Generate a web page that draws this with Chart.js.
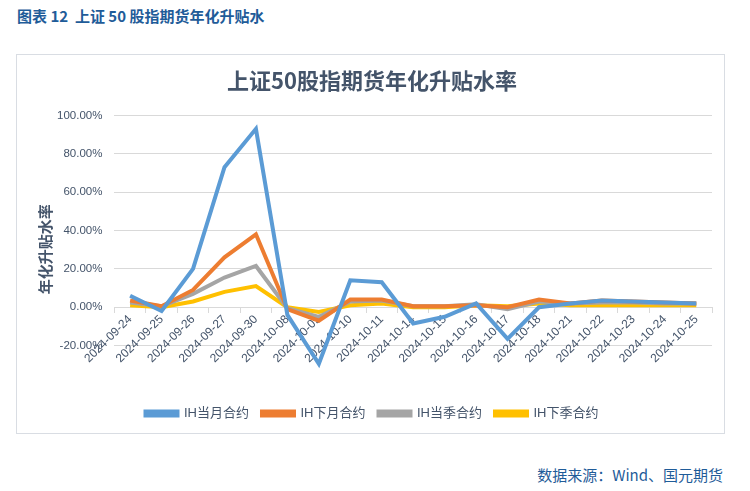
<!DOCTYPE html>
<html>
<head>
<meta charset="utf-8">
<script src="https://cdn.jsdelivr.net/npm/chart.js@4"></script>
<style>
  body { margin: 0; background: #fff; width: 750px; height: 491px; position: relative; overflow: hidden; }
  #cabecera { position: absolute; left: 17px; top: 5px; font: bold 15px "Noto Sans CJK SC", sans-serif; color: #1F5C99; white-space: pre; }
  #caja { position: absolute; left: 16px; top: 54px; width: 707px; height: 378px; border: 1px solid #D9DDE3; }
  #fuente { position: absolute; right: 27px; top: 464px; font: 15px "Noto Sans CJK SC", sans-serif; color: #1F5C99; }
</style>
</head>
<body>
<div id="cabecera">图表 12  上证 50 股指期货年化升贴水</div>
<div id="caja"><canvas id="grafico" width="707" height="378"></canvas></div>
<div id="fuente">数据来源：Wind、国元期货</div>
<script>
// Fechas (eje X)
const fechas = [
  "2024-09-24", "2024-09-25", "2024-09-26", "2024-09-27", "2024-09-30",
  "2024-10-08", "2024-10-09", "2024-10-10", "2024-10-11", "2024-10-14",
  "2024-10-15", "2024-10-16", "2024-10-17", "2024-10-18", "2024-10-21",
  "2024-10-22", "2024-10-23", "2024-10-24", "2024-10-25"
];

// Series en %
const ihMesActual = [6, -2, 20, 73, 93, -4, -29.5, 14, 13, -8.5, -5, 2, -16.5, 0, 2, 3.5, 3, 2.5, 2];
const ihMesSiguiente = [3.5, 0.5, 9, 26, 38, -1, -7, 4, 4, 0.5, 0.5, 1, 0, 4, 2, 3.5, 3, 2.5, 2];
const ihTrimActual = [2.5, 0.5, 7, 15.5, 21.5, -0.5, -5, 3, 3.5, 0.5, 0.5, 1.5, -1, 3, 2, 2.5, 2.5, 2, 2];
const ihTrimSiguiente = [1, 0, 3, 8, 11, 0, -2.5, 1, 2, 0, 0, 1, 0.5, 2, 1, 1, 1, 1, 1];

const nombres = ["IH当月合约", "IH下月合约", "IH当季合约", "IH下季合约"];
const colores = ["#5B9BD5", "#ED7D31", "#A5A5A5", "#FFC000"];

const textoColor = "#44546A";
const fuenteBase = "'Liberation Sans', 'Noto Sans CJK SC', sans-serif";

const series = [ihMesActual, ihMesSiguiente, ihTrimActual, ihTrimSiguiente];

const datasets = series.map((valores, i) => ({
  label: nombres[i],
  data: valores,
  borderColor: colores[i],
  backgroundColor: colores[i],
  borderWidth: 4,
  pointRadius: 0,
  tension: 0,
  clip: false, // la serie azul baja por debajo de -20%
}));

const ctx = document.getElementById("grafico");

new Chart(ctx, {
  type: "line",
  data: { labels: fechas, datasets },
  options: {
    responsive: false,
    animation: false,
    layout: { padding: { left: 15, right: 12, top: 0, bottom: 3 } },
    plugins: {
      title: {
        display: true,
        text: "上证50股指期货年化升贴水率",
        color: textoColor,
        font: { family: "'Noto Sans CJK SC', sans-serif", size: 22, weight: "bold" },
        padding: { top: 12, bottom: 22 },
      },
      legend: {
        position: "bottom",
        // título vacío: sólo deja el hueco para las etiquetas del eje X
        title: { display: true, text: "", font: { size: 12 }, padding: { top: 0, bottom: 34 } },
        labels: {
          boxWidth: 32,
          boxHeight: 4,
          padding: 13,
          color: textoColor,
          font: { family: fuenteBase, size: 13 },
        },
      },
      tooltip: { enabled: false },
    },
    scales: {
      x: {
        position: { y: 0 },
        offset: true,
        grid: {
          offset: true,
          drawOnChartArea: false,
          drawTicks: true,
          tickLength: 5,
          color: "#D9D9D9",
        },
        border: { color: "#D9D9D9" },
        ticks: {
          color: textoColor,
          font: { family: fuenteBase, size: 12 },
          minRotation: 45,
          maxRotation: 45,
          autoSkip: false,
          padding: 0,
        },
      },
      y: {
        min: -20,
        max: 100,
        grid: { color: "#D9D9D9", drawTicks: false },
        border: { display: false },
        ticks: {
          stepSize: 20,
          padding: 12,
          color: textoColor,
          font: { family: fuenteBase, size: 11.5 },
          callback: (v) => v.toFixed(2) + "%",
        },
        title: {
          display: true,
          text: "年化升贴水率\u3000\u3000\u2002",
          color: textoColor,
          font: { family: "'Noto Sans CJK SC', sans-serif", size: 15, weight: "bold" },
          padding: { top: 4, bottom: -9 },
        },
      },
    },
  },
});
</script>
</body>
</html>
